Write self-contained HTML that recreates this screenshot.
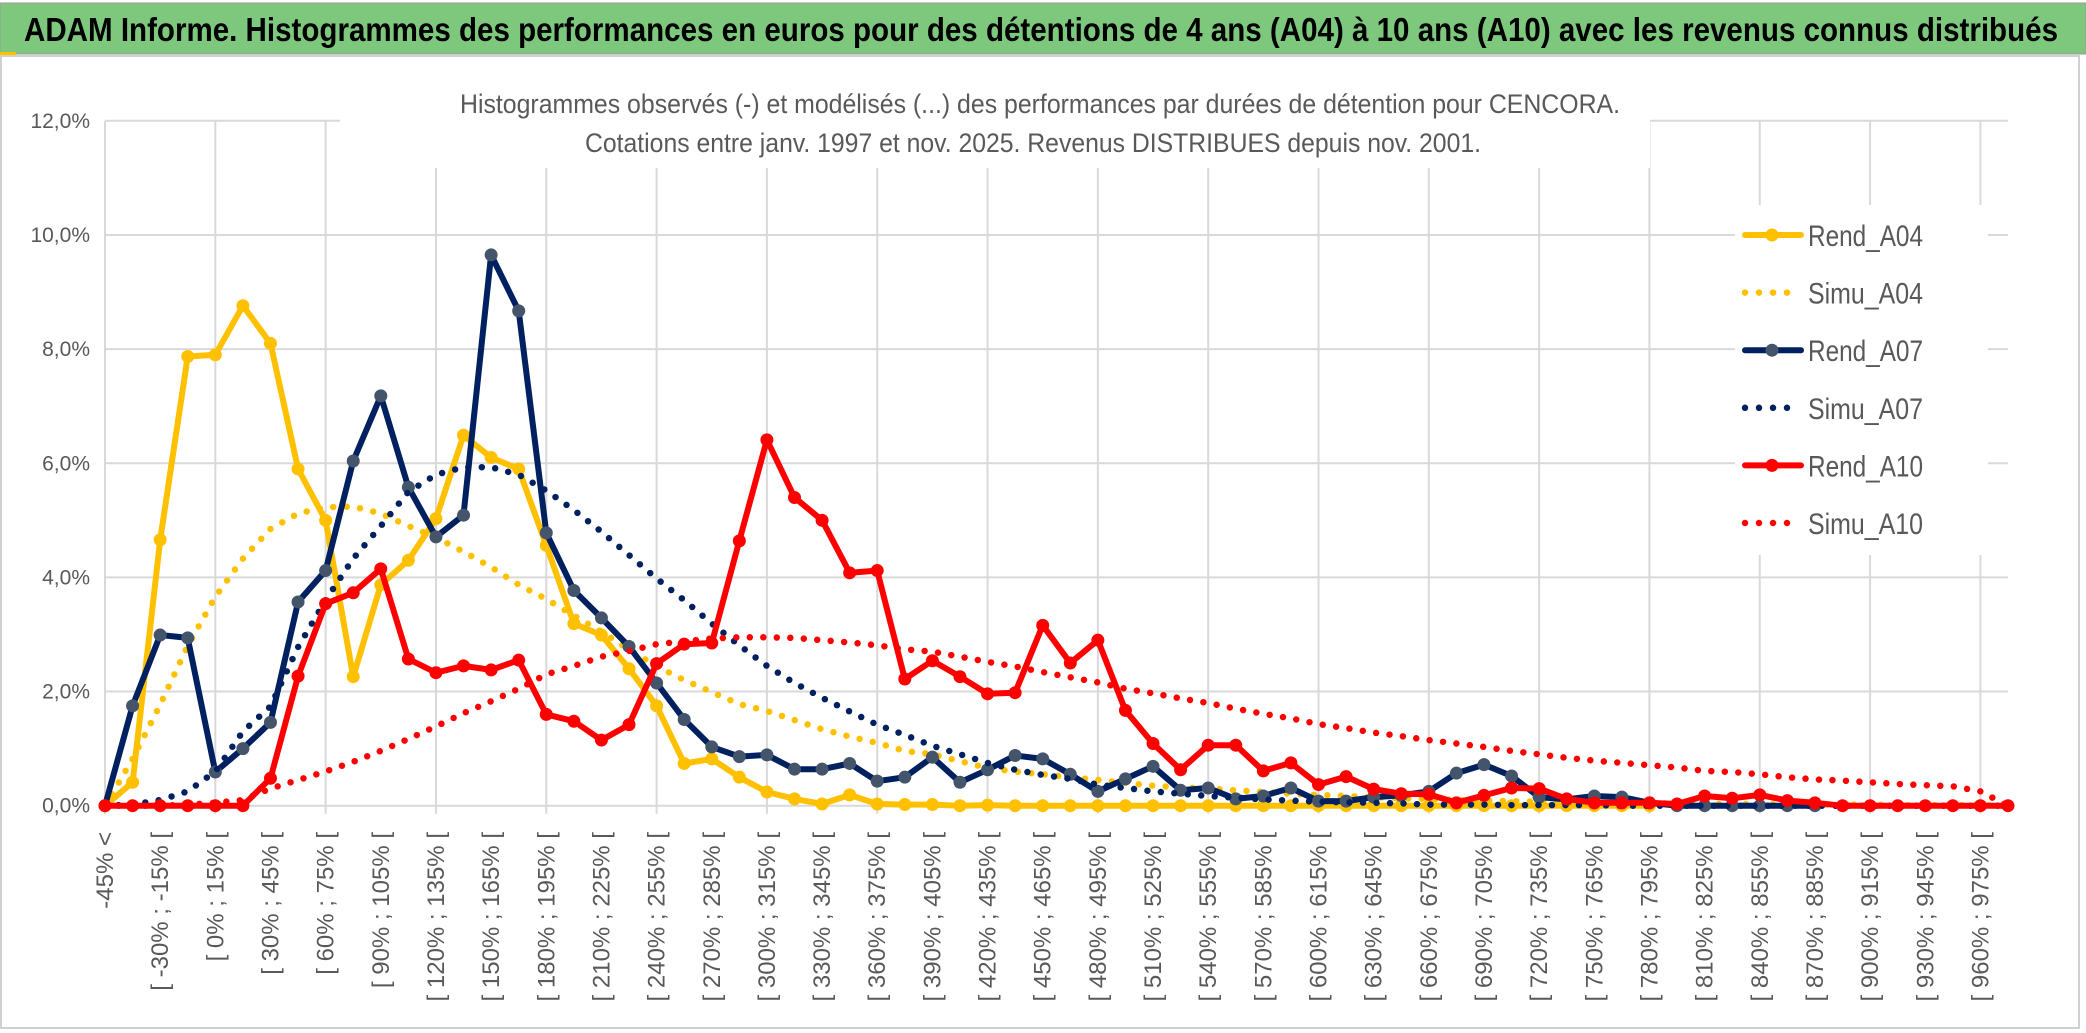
<!DOCTYPE html>
<html><head><meta charset="utf-8"><style>
html,body{margin:0;padding:0;background:#fff;}
svg{display:block;font-family:"Liberation Sans",sans-serif;}
</style></head><body>
<svg id="chart" width="2086" height="1033" viewBox="0 0 2086 1033" xmlns="http://www.w3.org/2000/svg">
<rect x="0" y="0" width="2086" height="1033" fill="#fff"/>
<rect x="1" y="56" width="2078" height="972" fill="none" stroke="#d0d0d0" stroke-width="2"/>
<rect x="0" y="3" width="2086" height="51" fill="#7ec87e" stroke="#9a9a9a" stroke-width="1"/>
<rect x="0" y="52" width="16" height="3" fill="#ffc000"/>
<text x="24" y="41" font-size="33" font-weight="bold" fill="#000" textLength="2034" lengthAdjust="spacingAndGlyphs">ADAM Informe. Histogrammes des performances en euros pour des détentions de 4 ans (A04) à 10 ans (A10) avec les revenus connus distribués</text>
<g id="grid"></g>
<rect x="340" y="58" width="1310" height="110" fill="#fff"/>
<text x="1040" y="113" font-size="27" fill="#595959" text-anchor="middle" textLength="1160" lengthAdjust="spacingAndGlyphs">Histogrammes observés (-) et modélisés (...) des performances par durées de détention pour CENCORA.</text>
<text x="1033" y="152" font-size="27" fill="#595959" text-anchor="middle" textLength="896" lengthAdjust="spacingAndGlyphs">Cotations entre janv. 1997 et nov. 2025. Revenus DISTRIBUES depuis nov. 2001.</text>
<g id="yaxis"></g>
<g id="xaxis"></g>
<g id="series"></g>
<g id="legend"></g>
</svg>
<script>
const categories = ["-45% <","[ -45% ; -30% [","[ -30% ; -15% [","[ -15% ; 0% [","[ 0% ; 15% [","[ 15% ; 30% [","[ 30% ; 45% [","[ 45% ; 60% [","[ 60% ; 75% [","[ 75% ; 90% [","[ 90% ; 105% [","[ 105% ; 120% [","[ 120% ; 135% [","[ 135% ; 150% [","[ 150% ; 165% [","[ 165% ; 180% [","[ 180% ; 195% [","[ 195% ; 210% [","[ 210% ; 225% [","[ 225% ; 240% [","[ 240% ; 255% [","[ 255% ; 270% [","[ 270% ; 285% [","[ 285% ; 300% [","[ 300% ; 315% [","[ 315% ; 330% [","[ 330% ; 345% [","[ 345% ; 360% [","[ 360% ; 375% [","[ 375% ; 390% [","[ 390% ; 405% [","[ 405% ; 420% [","[ 420% ; 435% [","[ 435% ; 450% [","[ 450% ; 465% [","[ 465% ; 480% [","[ 480% ; 495% [","[ 495% ; 510% [","[ 510% ; 525% [","[ 525% ; 540% [","[ 540% ; 555% [","[ 555% ; 570% [","[ 570% ; 585% [","[ 585% ; 600% [","[ 600% ; 615% [","[ 615% ; 630% [","[ 630% ; 645% [","[ 645% ; 660% [","[ 660% ; 675% [","[ 675% ; 690% [","[ 690% ; 705% [","[ 705% ; 720% [","[ 720% ; 735% [","[ 735% ; 750% [","[ 750% ; 765% [","[ 765% ; 780% [","[ 780% ; 795% [","[ 795% ; 810% [","[ 810% ; 825% [","[ 825% ; 840% [","[ 840% ; 855% [","[ 855% ; 870% [","[ 870% ; 885% [","[ 885% ; 900% [","[ 900% ; 915% [","[ 915% ; 930% [","[ 930% ; 945% [","[ 945% ; 960% [","[ 960% ; 975% [","[ 975% ; 990% ["];
const yTicks = [0,2,4,6,8,10,12];
const yTickLabels = ["0,0%","2,0%","4,0%","6,0%","8,0%","10,0%","12,0%"];
const rendA04 = [0,0.41,4.66,7.87,7.9,8.76,8.1,5.9,5.0,2.26,3.87,4.3,5.03,6.49,6.1,5.9,4.56,3.19,2.99,2.4,1.75,0.74,0.82,0.5,0.24,0.12,0.03,0.19,0.03,0.02,
0.02,0,0.01,0,0,0,0,0,0,0,0,0,0,0,0,0,0,0,0,0,0,0,0,0,0,0,0,null,null,null,null,null,null,null,null,null,null,null,null,null];
const simuA04 = [0,0.82,1.77,2.8,3.66,4.33,4.85,5.12,5.23,5.24,5.12,4.9,4.7,4.45,4.18,3.87,3.62,3.33,3.05,2.74,2.44,2.2,1.99,1.78,1.66,1.5,1.34,1.21,1.1,0.96,
0.9,0.78,0.66,0.6,0.55,0.5,0.45,0.4,0.35,0.32,0.3,0.27,0.24,0.21,0.19,0.17,0.15,0.13,0.12,0.1,
0.09,0.08,0.07,0.06,0.05,0.05,0.04,0.04,0.03,0.03,0.03,0.02,0.02,0.02,0.02,0.01,0.01,0.01,0.01,0];
const rendA07 = [0,1.75,2.99,2.94,0.59,1.0,1.46,3.57,4.12,6.04,7.18,5.58,4.71,5.09,9.65,8.67,4.78,3.77,3.29,2.79,2.15,1.51,1.03,0.86,0.89,0.64,0.64,0.74,0.43,0.5,
0.85,0.41,0.63,0.88,0.82,0.55,0.25,0.47,0.69,0.27,0.31,0.12,0.17,0.31,0.08,0.08,0.15,0.18,0.25,0.57,
0.72,0.52,0.15,0.11,0.17,0.15,0.05,0,0,0,0,0,0,null,null,null,null,null,null,null];
const simuA07 = [0,0.02,0.1,0.25,0.6,1.3,1.74,2.78,3.6,4.33,4.9,5.5,5.8,5.93,5.93,5.8,5.52,5.18,4.8,4.39,3.98,3.6,3.19,2.81,2.45,2.15,1.89,1.65,1.42,1.24,
1.05,0.9,0.75,0.63,0.54,0.47,0.37,0.31,0.25,0.21,0.17,0.14,0.11,0.09,0.07,0.06,0.05,0.04,0.02,0.02,
0.02,0.01,0.01,0.01,0.01,0,0,0,0,0,0,0,0,0,0,0,0,0,0,0];
const rendA10 = [0,0,0,0,0,0,0.48,2.27,3.54,3.73,4.15,2.57,2.33,2.45,2.38,2.55,1.6,1.48,1.15,1.42,2.49,2.83,2.85,4.64,6.41,5.4,5.0,4.08,4.12,2.22,
2.54,2.26,1.96,1.98,3.16,2.5,2.9,1.67,1.09,0.63,1.06,1.06,0.61,0.75,0.37,0.51,0.29,0.21,0.2,0.05,
0.18,0.31,0.3,0.12,0.05,0.05,0.05,0.03,0.17,0.13,0.19,0.09,0.05,0,0,0,0,0,0,0];
const simuA10 = [0,0,0,0.02,0.05,0.1,0.3,0.45,0.6,0.77,0.96,1.17,1.39,1.62,1.83,2.05,2.3,2.45,2.61,2.71,2.83,2.88,2.93,2.95,2.95,2.94,2.9,2.86,2.81,2.74,
2.70,2.61,2.52,2.44,2.34,2.25,2.16,2.05,1.97,1.88,1.80,1.70,1.61,1.53,1.43,1.36,1.28,1.22,1.15,1.09,
1.03,0.96,0.9,0.84,0.79,0.75,0.71,0.67,0.61,0.59,0.55,0.5,0.46,0.44,0.41,0.38,0.36,0.34,0.25,0];
const seriesNames = ["Rend_A04","Simu_A04","Rend_A07","Simu_A07","Rend_A10","Simu_A10"];

const NS = "http://www.w3.org/2000/svg";
const X0 = 105, X1 = 2008, Y0 = 805.7, YTOP = 120.8, YMAX = 12;
const step = (X1 - X0) / (categories.length - 1);
function xPos(i){ return X0 + i * step; }
function yPos(v){ return Y0 - (v / YMAX) * (Y0 - YTOP); }
function mk(tag, attrs, parent){ const e = document.createElementNS(NS, tag); for (const k in attrs) e.setAttribute(k, attrs[k]); parent.appendChild(e); return e; }

const grid = document.getElementById('grid');
yTicks.forEach(function(t){
  const l = mk('line', {x1:X0, x2:X1, y1:yPos(t), y2:yPos(t), stroke:'#d9d9d9', 'stroke-width':2}, grid);
  
  
});
categories.forEach(function(c, i){
  if (i % 4 !== 0) return;
  const l = mk('line', {x1:xPos(i), x2:xPos(i), y1:YTOP, y2:Y0 + 8, stroke:'#d9d9d9', 'stroke-width':2}, grid);
  
  
});

const yax = document.getElementById('yaxis');
yTicks.forEach(function(t, k){
  const tx = mk('text', {x:90, y:yPos(t) + 7, 'font-size':21, fill:'#595959', 'text-anchor':'end'}, yax);
  tx.textContent = yTickLabels[k];
  
  
});

const xax = document.getElementById('xaxis');
categories.forEach(function(c, i){
  if (i % 2 !== 0 || i > 68) return;
  const x = xPos(i) + 8, y = 832;
  const tx = mk('text', {x:x, y:y, 'font-size':24, fill:'#595959', 'text-anchor':'end', transform:'rotate(-90 ' + x + ' ' + y + ')'}, xax);
  tx.textContent = c;
  
  
});

function pathFor(vals){
  let d = '', pen = false;
  vals.forEach(function(v, i){
    if (v === null) { pen = false; return; }
    d += (pen ? 'L' : 'M') + xPos(i).toFixed(1) + ' ' + yPos(v).toFixed(1);
    pen = true;
  });
  return d;
}
const sg = document.getElementById('series');
function drawSolid(vals, color, markerColor, name){
  const g = mk('g', {}, sg);
  
  
  const p = mk('path', {d:pathFor(vals), fill:'none', stroke:color, 'stroke-width':6, 'stroke-linejoin':'round', 'stroke-linecap':'round'}, g);
  
  
  vals.forEach(function(v, i){
    if (v === null) return;
    const c = mk('circle', {cx:xPos(i), cy:yPos(v), r:6.5, fill:markerColor}, g);
    
    
  });
}
function drawDotted(vals, color, name){
  const p = mk('path', {d:pathFor(vals), fill:'none', stroke:color, 'stroke-width':6.5, 'stroke-linecap':'round', 'stroke-dasharray':'0 13.5'}, sg);
  
  
}
drawSolid(rendA04, '#ffc000', '#ffc000', 'rend-a04');
drawDotted(simuA04, '#ffc000', 'simu-a04');
drawSolid(rendA07, '#002060', '#44546a', 'rend-a07');
drawDotted(simuA07, '#002060', 'simu-a07');
drawSolid(rendA10, '#ff0000', '#ff0000', 'rend-a10');
drawDotted(simuA10, '#ff0000', 'simu-a10');

const lg = document.getElementById('legend');
const bg = mk('rect', {x:1735, y:205, width:253, height:350, fill:'#fff'}, lg);


const legColors = ['#ffc000','#ffc000','#002060','#002060','#ff0000','#ff0000'];
const legMarkers = ['#ffc000',null,'#44546a',null,'#ff0000',null];
seriesNames.forEach(function(n, k){
  const y = 235 + k * 57.6;
  const g = mk('g', {}, lg);
  
  
  if (legMarkers[k]) {
    mk('line', {x1:1745, x2:1801, y1:y, y2:y, stroke:legColors[k], 'stroke-width':6, 'stroke-linecap':'round'}, g);
    mk('circle', {cx:1772, cy:y, r:6.5, fill:legMarkers[k]}, g);
  } else {
    mk('line', {x1:1745, x2:1795, y1:y, y2:y, stroke:legColors[k], 'stroke-width':6.5, 'stroke-linecap':'round', 'stroke-dasharray':'0 14'}, g);
  }
  const t = mk('text', {x:1808, y:y + 11, 'font-size':30, fill:'#595959', textLength:115, lengthAdjust:'spacingAndGlyphs'}, g);
  t.textContent = n;
  
  
});
</script>
</body></html>
